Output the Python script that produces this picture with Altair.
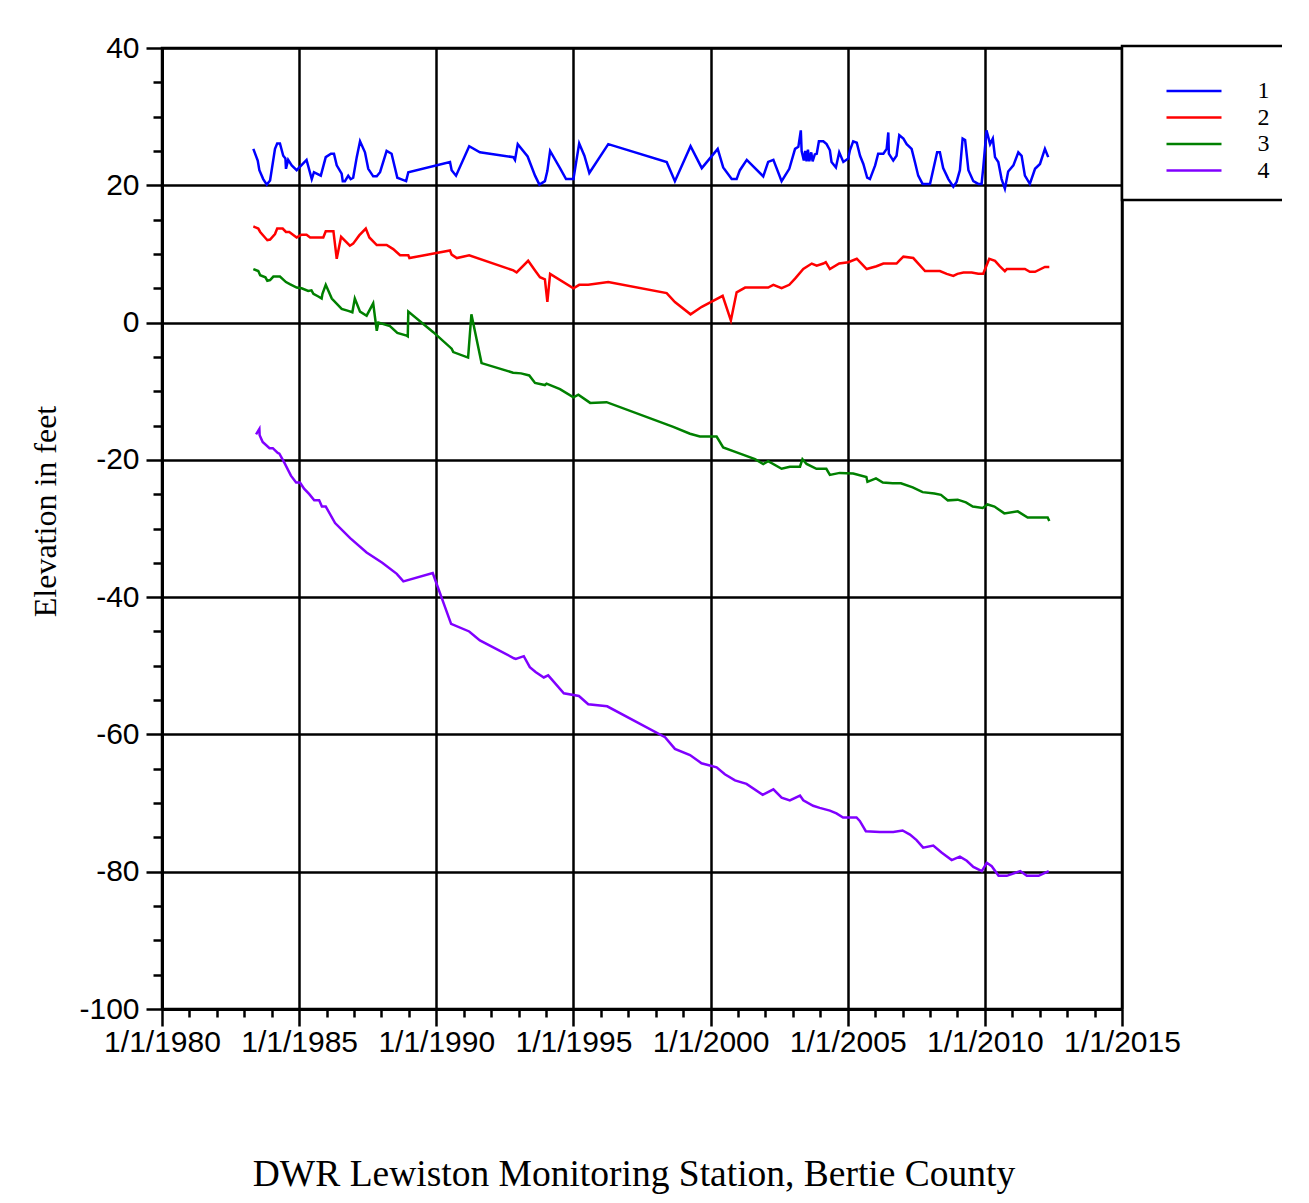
import altair as alt
import pandas as pd

# ---- data (decimal year, elevation in feet) ----
years_1 = [1983.33, 1983.49, 1983.55, 1983.69, 1983.82, 1983.94, 1984.12, 1984.20, 1984.30, 1984.42,
           1984.50, 1984.52, 1984.60, 1984.73, 1984.91, 1985.27, 1985.46, 1985.54, 1985.64, 1985.79,
           1985.97, 1986.16, 1986.27, 1986.37, 1986.55, 1986.59, 1986.67, 1986.79, 1986.88, 1986.97,
           1987.10, 1987.22, 1987.40, 1987.52, 1987.70, 1987.83, 1987.95, 1988.19, 1988.37, 1988.49,
           1988.58, 1988.71, 1988.90, 1988.98, 1990.50, 1990.56, 1990.72, 1991.20, 1991.59, 1992.81,
           1992.87, 1992.97, 1993.33, 1993.60, 1993.76, 1993.96, 1994.05, 1994.15, 1994.51, 1994.73,
           1995.00, 1995.21, 1995.40, 1995.58, 1996.27, 1998.40, 1998.70, 1999.27, 1999.68, 2000.26,
           2000.46, 2000.77, 2000.95, 2001.07, 2001.32, 2001.92, 2002.10, 2002.29, 2002.59, 2002.87,
           2003.08, 2003.20, 2003.29, 2003.32, 2003.40, 2003.45, 2003.50, 2003.55, 2003.60, 2003.67,
           2003.72, 2003.80, 2003.87, 2003.95, 2004.11, 2004.23, 2004.35, 2004.41, 2004.57, 2004.69,
           2004.84, 2005.02, 2005.08, 2005.20, 2005.33, 2005.45, 2005.57, 2005.71, 2005.81, 2006.00,
           2006.11, 2006.30, 2006.42, 2006.48, 2006.50, 2006.66, 2006.78, 2006.88, 2007.03, 2007.15,
           2007.33, 2007.45, 2007.57, 2007.73, 2008.00, 2008.18, 2008.26, 2008.36, 2008.48, 2008.67,
           2008.85, 2008.97, 2009.09, 2009.19, 2009.28, 2009.40, 2009.58, 2009.76, 2009.88, 2009.94,
           2010.06, 2010.19, 2010.29, 2010.37, 2010.49, 2010.61, 2010.73, 2010.85, 2011.04, 2011.22,
           2011.34, 2011.46, 2011.64, 2011.83, 2012.01, 2012.19, 2012.31]
vals_1 = [25.3, 23.6, 22.2, 20.9, 20.1, 20.7, 25.3, 26.1, 26.1, 24.3,
          23.9, 22.4, 23.7, 22.9, 22.2, 23.7, 20.9, 21.9, 21.7, 21.4,
          24.1, 24.6, 24.6, 22.9, 21.7, 20.6, 20.6, 21.4, 20.9, 21.1,
          24.1, 26.4, 24.8, 22.4, 21.3, 21.3, 21.9, 25.0, 24.6, 22.6,
          21.1, 20.9, 20.6, 21.9, 23.4, 22.2, 21.4, 25.7, 24.8, 24.1,
          23.7, 26.0, 24.2, 21.4, 20.1, 20.6, 22.1, 25.0, 22.5, 20.9,
          20.9, 26.1, 24.3, 21.8, 26.0, 23.4, 20.6, 25.7, 22.5, 25.3,
          22.6, 20.9, 20.9, 22.2, 23.7, 21.3, 23.4, 23.7, 20.6, 22.4,
          25.3, 25.6, 28.0, 25.0, 23.6, 25.0, 23.5, 25.2, 23.5, 24.8,
          23.5, 24.5, 24.6, 26.4, 26.4, 26.0, 25.1, 23.4, 22.6, 24.8,
          23.4, 23.9, 25.1, 26.4, 26.2, 24.3, 23.1, 21.1, 20.9, 22.9,
          24.6, 24.6, 25.3, 27.7, 24.6, 23.6, 24.3, 27.3, 26.8, 26.0,
          25.3, 23.4, 21.4, 20.2, 20.2, 23.4, 24.8, 24.8, 22.5, 20.9,
          19.8, 20.5, 22.2, 26.8, 26.6, 22.2, 20.6, 20.2, 20.2, 22.5,
          28.0, 26.0, 26.8, 24.1, 23.4, 20.9, 19.5, 22.0, 22.9, 24.8,
          24.3, 21.4, 20.2, 22.4, 23.1, 25.3, 24.1]

years_2 = [1983.33, 1983.51, 1983.58, 1983.84, 1983.94, 1984.12, 1984.20, 1984.40, 1984.52, 1984.64,
           1984.91, 1985.09, 1985.27, 1985.40, 1985.88, 1985.97, 1986.25, 1986.37, 1986.53, 1986.85,
           1986.97, 1987.19, 1987.43, 1987.56, 1987.83, 1988.19, 1988.43, 1988.68, 1988.98, 1989.02,
           1990.50, 1990.56, 1990.75, 1991.20, 1992.81, 1992.93, 1993.35, 1993.60, 1993.78, 1993.96,
           1994.05, 1994.15, 1995.00, 1995.21, 1995.54, 1996.27, 1998.40, 1998.70, 1999.27, 1999.68,
           2000.44, 2000.74, 2000.95, 2001.26, 2002.10, 2002.29, 2002.59, 2002.87, 2003.08, 2003.38,
           2003.69, 2003.87, 2004.11, 2004.20, 2004.35, 2004.69, 2005.02, 2005.33, 2005.45, 2005.69,
           2006.05, 2006.30, 2006.78, 2006.90, 2007.03, 2007.39, 2007.82, 2008.36, 2008.61, 2008.85,
           2009.00, 2009.22, 2009.52, 2009.76, 2009.94, 2010.16, 2010.37, 2010.55, 2010.73, 2010.80,
           2011.46, 2011.64, 2011.83, 2012.19, 2012.35]
vals_2 = [14.0, 13.7, 13.2, 12.0, 12.1, 12.9, 13.7, 13.7, 13.2, 13.2,
          12.4, 12.8, 12.8, 12.4, 12.4, 13.3, 13.3, 9.3, 12.5, 11.2,
          11.5, 12.7, 13.7, 12.4, 11.3, 11.3, 10.7, 9.8, 9.8, 9.4,
          10.5, 9.9, 9.4, 9.8, 7.6, 7.3, 9.0, 7.6, 6.6, 6.3,
          3.0, 7.1, 5.0, 5.5, 5.5, 5.9, 4.3, 3.0, 1.2, 2.3,
          3.9, 0.3, 4.4, 5.1, 5.1, 5.5, 5.0, 5.5, 6.4, 7.8,
          8.6, 8.3, 8.6, 8.8, 7.8, 8.6, 8.8, 9.3, 8.8, 7.8,
          8.2, 8.6, 8.6, 9.1, 9.6, 9.4, 7.5, 7.5, 7.1, 6.8,
          7.1, 7.3, 7.3, 7.1, 7.1, 9.3, 9.0, 8.2, 7.5, 7.8,
          7.8, 7.4, 7.4, 8.1, 8.1]

years_3 = [1983.33, 1983.51, 1983.58, 1983.77, 1983.84, 1983.94, 1984.06, 1984.30, 1984.52, 1984.66,
           1984.91, 1985.09, 1985.33, 1985.45, 1985.52, 1985.70, 1985.82, 1985.85, 1985.97, 1986.19,
           1986.55, 1986.79, 1986.94, 1987.03, 1987.22, 1987.46, 1987.70, 1987.83, 1987.89, 1988.31,
           1988.58, 1988.92, 1988.96, 1988.98, 1989.89, 1990.56, 1990.62, 1991.16, 1991.28, 1991.65,
           1992.80, 1993.09, 1993.39, 1993.60, 1993.96, 1994.02, 1994.51, 1995.00, 1995.18, 1995.61,
           1996.21, 1998.64, 1999.25, 1999.61, 2000.22, 2000.46, 2000.95, 2001.62, 2001.92, 2002.10,
           2002.59, 2002.89, 2003.26, 2003.35, 2003.50, 2003.86, 2004.22, 2004.35, 2004.71, 2005.20,
           2005.68, 2005.72, 2006.03, 2006.28, 2006.64, 2006.94, 2007.37, 2007.73, 2008.16, 2008.40,
           2008.65, 2009.01, 2009.31, 2009.56, 2009.92, 2010.10, 2010.35, 2010.71, 2011.20, 2011.56,
           2012.29, 2012.35]
vals_3 = [7.8, 7.5, 6.9, 6.6, 6.1, 6.2, 6.7, 6.7, 5.9, 5.6,
          5.1, 5.0, 4.6, 4.7, 4.2, 3.8, 3.5, 4.2, 5.5, 3.5,
          2.0, 1.7, 1.5, 3.5, 1.6, 1.0, 2.8, -1.2, 0.0, -0.5,
          -1.5, -1.9, -2.0, 1.6, -1.4, -3.8, -4.3, -5.1, 1.2, -5.9,
          -7.3, -7.4, -7.7, -8.8, -9.1, -8.9, -9.7, -10.9, -10.5, -11.7,
          -11.6, -15.2, -16.2, -16.6, -16.6, -18.2, -18.9, -19.9, -20.6, -20.2,
          -21.3, -21.0, -21.0, -19.9, -20.6, -21.3, -21.3, -22.2, -21.9, -22.0,
          -22.5, -23.2, -22.7, -23.3, -23.4, -23.4, -24.0, -24.7, -24.9, -25.1,
          -25.9, -25.8, -26.2, -26.8, -27.0, -26.5, -26.8, -27.8, -27.5, -28.4,
          -28.4, -28.9]

years_4 = [1983.43, 1983.55, 1983.56, 1983.67, 1983.92, 1984.04, 1984.22, 1984.28, 1984.46, 1984.70,
           1984.89, 1985.03, 1985.18, 1985.37, 1985.55, 1985.73, 1985.83, 1985.97, 1986.31, 1986.86,
           1987.46, 1988.03, 1988.56, 1988.80, 1989.87, 1990.54, 1991.20, 1991.59, 1992.83, 1992.90,
           1993.19, 1993.41, 1993.62, 1993.92, 1994.08, 1994.65, 1995.20, 1995.54, 1996.23, 1998.34,
           1998.70, 1999.25, 1999.67, 2000.22, 2000.52, 2000.89, 2001.31, 2001.90, 2002.29, 2002.59,
           2002.89, 2003.26, 2003.38, 2003.74, 2003.98, 2004.35, 2004.59, 2004.83, 2005.32, 2005.44,
           2005.66, 2006.17, 2006.66, 2007.00, 2007.27, 2007.51, 2007.75, 2008.12, 2008.42, 2008.79,
           2009.09, 2009.34, 2009.58, 2009.89, 2010.07, 2010.25, 2010.50, 2010.80, 2011.29, 2011.53,
           2011.96, 2012.33]
vals_4 = [-16.3, -15.5, -16.4, -17.4, -18.3, -18.3, -19.0, -19.1, -20.4, -22.3,
          -23.3, -23.3, -24.2, -25.0, -25.9, -25.9, -26.8, -26.8, -29.2, -31.4,
          -33.5, -35.0, -36.6, -37.7, -36.5, -43.9, -45.0, -46.3, -48.9, -49.0,
          -48.6, -50.2, -50.9, -51.7, -51.4, -54.0, -54.4, -55.6, -55.9, -60.4,
          -62.1, -63.0, -64.2, -64.8, -65.8, -66.7, -67.2, -68.8, -68.0, -69.2,
          -69.6, -68.9, -69.6, -70.4, -70.7, -71.1, -71.5, -72.1, -72.1, -72.6,
          -74.1, -74.2, -74.2, -74.0, -74.6, -75.4, -76.5, -76.2, -77.2, -78.3,
          -77.8, -78.4, -79.3, -79.9, -78.7, -79.2, -80.6, -80.6, -79.9, -80.6,
          -80.6, -79.9]

series_names = ["1", "2", "3", "4"]
series_colors = ["#0000FF", "#FF0000", "#008000", "#8000FF"]
x_tick_values = list(range(1980, 2016))
y_tick_values = list(range(-100, 41, 5))

rows = []
for name, ys, vs in zip(series_names, [years_1, years_2, years_3, years_4],
                        [vals_1, vals_2, vals_3, vals_4]):
    for i, (yr, v) in enumerate(zip(ys, vs)):
        rows.append({"series": name, "year": yr, "elev": v, "order": i})
df = pd.DataFrame(rows)

SANS = "Liberation Sans"
SERIF = "Liberation Serif"

x_axis = alt.Axis(
    values=x_tick_values,
    labelExpr="datum.value % 5 == 0 ? '1/1/' + datum.value : ''",
    labelFont=SANS, labelFontSize=30, labelColor="black", labelPadding=1,
    labelOverlap=False, labelFlush=False,
    tickSize={"condition": {"test": "datum.value % 5 == 0", "value": 17}, "value": 8},
    tickColor="black", tickWidth=2.5,
    domainColor="black", domainWidth=3,
    grid=True, gridColor="black", gridWidth=2.5,
    gridOpacity={"condition": {"test": "datum.value % 5 == 0", "value": 1}, "value": 0},
    title="DWR Lewiston Monitoring Station, Bertie County",
    titleFont=SERIF, titleFontSize=37.5, titleFontWeight="normal", titleColor="black",
    titleX=471.5, titleY=176, titleBaseline="alphabetic", titleAlign="center",
)

y_axis = alt.Axis(
    values=y_tick_values,
    labelExpr="datum.value % 20 == 0 ? '' + datum.value : ''",
    labelFont=SANS, labelFontSize=30, labelColor="black", labelPadding=7,
    labelOverlap=False, labelFlush=False,
    tickSize={"condition": {"test": "datum.value % 20 == 0", "value": 16}, "value": 9},
    tickColor="black", tickWidth=2.5,
    domainColor="black", domainWidth=3,
    grid=True, gridColor="black", gridWidth=2.5,
    gridOpacity={"condition": {"test": "datum.value % 20 == 0", "value": 1}, "value": 0},
    title="Elevation in feet",
    titleFont=SERIF, titleFontSize=32, titleFontWeight="normal", titleColor="black",
    titleAngle=270, titleX=-107, titleY=463, titleBaseline="alphabetic", titleAlign="center",
)

legend = alt.Legend(
    title=" ", titleFontSize=10, titlePadding=5.5,
    orient="none", legendX=960, legendY=-2,
    symbolType="M2.727,0H12.727", symbolSize=121, symbolStrokeWidth=2.5,
    labelFont=SERIF, labelFontSize=24, labelColor="black", labelOffset=94,
    padding=17.5, rowPadding=2.5,
    strokeColor="black", fillColor="white",
)

chart = alt.Chart(df).mark_line(strokeWidth=2.5).encode(
    x=alt.X("year:Q", scale=alt.Scale(domain=[1980, 2015], nice=False, zero=False), axis=x_axis),
    y=alt.Y("elev:Q", scale=alt.Scale(domain=[-100, 40], nice=False, zero=False), axis=y_axis),
    color=alt.Color("series:N", scale=alt.Scale(domain=series_names, range=series_colors), legend=legend),
    order="order:Q",
).properties(
    width=960, height=961,
    autosize=alt.AutoSizeParams(type="none"),
    padding={"left": 154, "top": 40, "right": 160, "bottom": 186},
    background="white",
).configure_view(
    stroke="black", strokeWidth=2.5
).configure_legend(
    strokeWidth=2.5
)

chart.save("out.html", embed_options={"renderer": "svg", "actions": False})
